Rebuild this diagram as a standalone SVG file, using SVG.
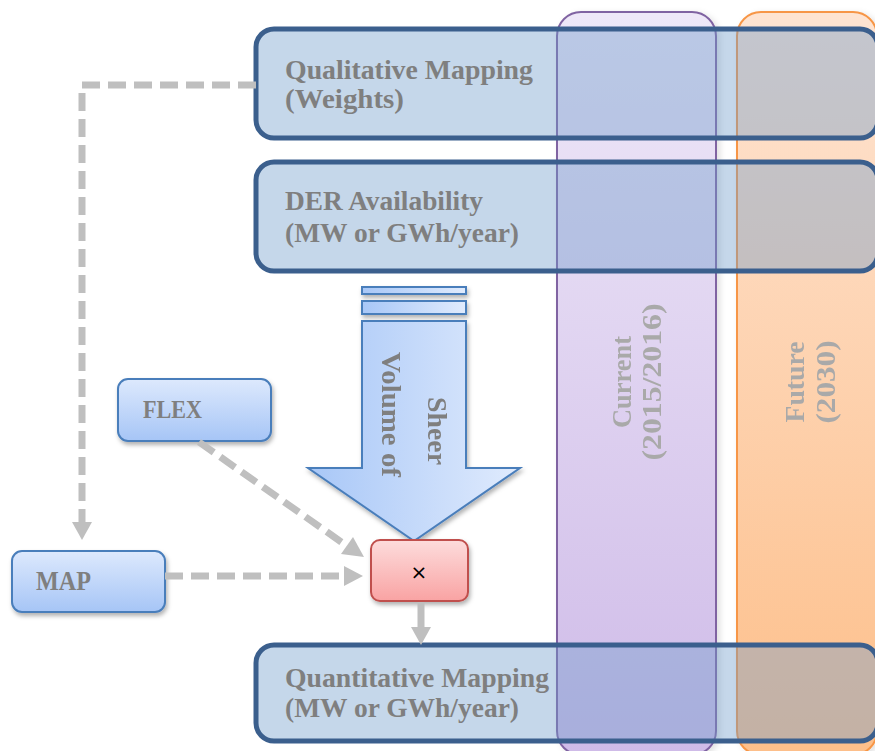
<svg xmlns="http://www.w3.org/2000/svg" width="875" height="751" viewBox="0 0 875 751">
  <defs>
    <linearGradient id="gPurple" x1="0" y1="0" x2="0" y2="1">
      <stop offset="0" stop-color="#eee8f8"/>
      <stop offset="1" stop-color="#cfbbe8"/>
    </linearGradient>
    <linearGradient id="gOrange" x1="0" y1="0" x2="0" y2="1">
      <stop offset="0" stop-color="#fee4d2"/>
      <stop offset="1" stop-color="#fdbf8a"/>
    </linearGradient>
    <linearGradient id="gBlue" x1="0" y1="0" x2="0" y2="1">
      <stop offset="0" stop-color="#dde9fd"/>
      <stop offset="1" stop-color="#a6c5f6"/>
    </linearGradient>
    <linearGradient id="gRed" x1="0" y1="0" x2="0" y2="1">
      <stop offset="0" stop-color="#fddcdc"/>
      <stop offset="1" stop-color="#f9a3a3"/>
    </linearGradient>
    <linearGradient id="gArrow" x1="0" y1="0" x2="1" y2="0">
      <stop offset="0" stop-color="#a8c7f7"/>
      <stop offset="1" stop-color="#e0ebfd"/>
    </linearGradient>
    <filter id="shadow" x="-20%" y="-20%" width="140%" height="140%">
      <feDropShadow dx="1.5" dy="3" stdDeviation="2" flood-color="#000" flood-opacity="0.3"/>
    </filter>
    <filter id="colShadow" x="-10%" y="-5%" width="120%" height="110%">
      <feDropShadow dx="3" dy="2" stdDeviation="3" flood-color="#000" flood-opacity="0.12"/>
    </filter>
  </defs>
  <style>
    .lbl { font-family: "Liberation Serif", "Times New Roman", serif; font-weight: bold; fill: #7f7f7f; }
    .col { font-family: "Liberation Serif", "Times New Roman", serif; font-weight: bold; fill: #a9a9a9; font-size: 27px; }
    .band { fill: rgba(110,155,202,0.4); stroke: #3b5f8d; stroke-width: 5; }
    .node { fill: url(#gBlue); stroke: #4a7ebb; stroke-width: 2; filter: url(#shadow); }
    .dash { fill: none; stroke: #bfbfbf; stroke-width: 7; stroke-dasharray: 18 8; }
    .tip { fill: #bfbfbf; }
  </style>

  <!-- time period columns -->
  <g id="col-current" filter="url(#colShadow)">
    <rect x="557" y="12" width="159" height="743" rx="24" fill="url(#gPurple)" stroke="#8064a2" stroke-width="2"/>
    <text class="col" transform="translate(631,382) rotate(-90)" text-anchor="middle" textLength="92" lengthAdjust="spacingAndGlyphs">Current</text>
    <text class="col" transform="translate(661,382) rotate(-90)" text-anchor="middle" textLength="157" lengthAdjust="spacingAndGlyphs">(2015/2016)</text>
  </g>
  <g id="col-future" filter="url(#colShadow)">
    <rect x="737" y="12" width="140" height="743" rx="24" fill="url(#gOrange)" stroke="#f79646" stroke-width="2"/>
    <text class="col" transform="translate(804,382) rotate(-90)" text-anchor="middle" textLength="81" lengthAdjust="spacingAndGlyphs">Future</text>
    <text class="col" transform="translate(835,382) rotate(-90)" text-anchor="middle" textLength="83" lengthAdjust="spacingAndGlyphs">(2030)</text>
  </g>

  <!-- mapping bands -->
  <g id="qualitative">
    <rect class="band" x="256" y="29" width="622" height="109" rx="18"/>
    <text class="lbl" x="285" y="79" font-size="27" textLength="248" lengthAdjust="spacingAndGlyphs">Qualitative Mapping</text>
    <text class="lbl" x="285" y="108" font-size="27" textLength="119" lengthAdjust="spacingAndGlyphs">(Weights)</text>
  </g>
  <g id="der">
    <rect class="band" x="256" y="162" width="622" height="109" rx="18"/>
    <text class="lbl" x="285" y="210" font-size="27" textLength="198" lengthAdjust="spacingAndGlyphs">DER Availability</text>
    <text class="lbl" x="285" y="242" font-size="27" textLength="234" lengthAdjust="spacingAndGlyphs">(MW or GWh/year)</text>
  </g>
  <g id="quantitative">
    <rect class="band" x="256" y="645" width="622" height="96" rx="18"/>
    <text class="lbl" x="285" y="687" font-size="27" textLength="264" lengthAdjust="spacingAndGlyphs">Quantitative Mapping</text>
    <text class="lbl" x="285" y="717" font-size="27" textLength="234" lengthAdjust="spacingAndGlyphs">(MW or GWh/year)</text>
  </g>

  <!-- volume arrow -->
  <g id="volume" filter="url(#shadow)">
    <rect x="362" y="287" width="104" height="7" fill="url(#gArrow)" stroke="#4a7ebb" stroke-width="2"/>
    <rect x="362" y="301" width="104" height="13" fill="url(#gArrow)" stroke="#4a7ebb" stroke-width="2"/>
    <path d="M362,321 H466 V468 H520 L414,541 L308,468 H362 Z" fill="url(#gArrow)" stroke="#4a7ebb" stroke-width="2"/>
    <text class="lbl" transform="translate(428,397) rotate(90)" font-size="28" textLength="68" lengthAdjust="spacingAndGlyphs">Sheer</text>
    <text class="lbl" transform="translate(382,352) rotate(90)" font-size="28" textLength="125" lengthAdjust="spacingAndGlyphs">Volume of</text>
  </g>

  <!-- inputs -->
  <g id="flex">
    <rect class="node" x="118" y="379" width="153" height="62" rx="10"/>
    <text class="lbl" x="143" y="418" font-size="26" textLength="59" lengthAdjust="spacingAndGlyphs">FLEX</text>
  </g>
  <g id="map">
    <rect class="node" x="12" y="551" width="153" height="61" rx="10"/>
    <text class="lbl" x="36" y="590" font-size="27" textLength="55" lengthAdjust="spacingAndGlyphs">MAP</text>
  </g>
  <g id="multiply">
    <rect x="371" y="540" width="97" height="61" rx="9" fill="url(#gRed)" stroke="#c0504d" stroke-width="2" filter="url(#shadow)"/>
    <text x="419" y="579" font-family="DejaVu Sans, sans-serif" font-size="20" text-anchor="middle" fill="#000">×</text>
  </g>

  <!-- connectors -->
  <g id="connectors">
    <path class="dash" d="M256,85 H82 V522"/>
    <path class="tip" d="M72,522 H92 L82,540 Z"/>
    <path class="dash" d="M165,576 H344"/>
    <path class="tip" d="M344,566 V586 L363,576 Z"/>
    <path class="dash" d="M199,442 L347,546"/>
    <path class="tip" d="M341,554 L353,537 L364,557 Z"/>
    <path d="M421,602 V627" stroke="#bfbfbf" stroke-width="7" fill="none"/>
    <path class="tip" d="M411,627 H431 L421,645 Z"/>
  </g>
</svg>
